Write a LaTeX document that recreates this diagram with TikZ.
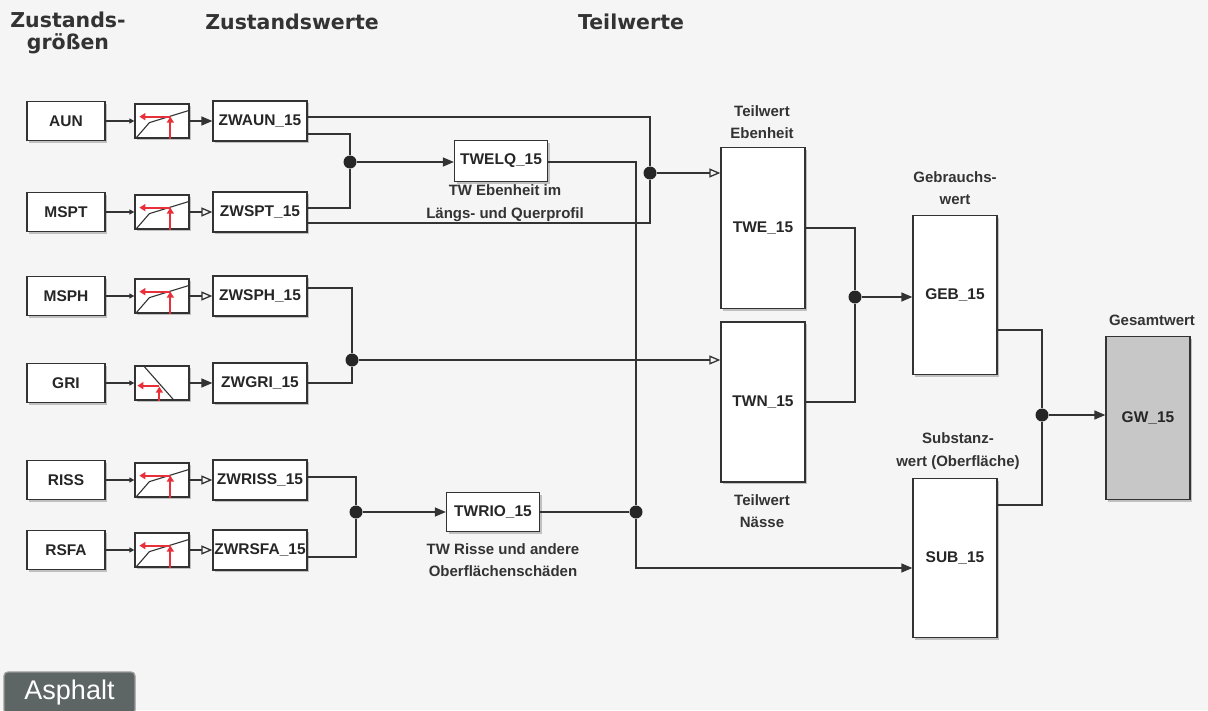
\documentclass[tikz,border=0pt]{standalone}
\usepackage{fontspec}
\setmainfont{Liberation Sans}
\newfontfamily\headfont{DejaVu Sans}
\usetikzlibrary{arrows.meta,shadows}
\definecolor{lutred}{HTML}{E8303A}
\definecolor{asph}{HTML}{5D6664}

\begin{document}
\begin{tikzpicture}[x=1pt,y=-1pt,line width=1.3pt,color=black!80,
    blk/.style={draw=black!80,fill=white,line width=1.3pt,inner sep=0pt,
      font=\bfseries\fontsize{15.5}{18}\selectfont,text=black!85,
      drop shadow={shadow xshift=2pt,shadow yshift=-2pt,fill=black!45,opacity=.5}},
    lbl/.style={font=\bfseries\fontsize{15}{22.5}\selectfont,text=black!80,align=center},
    head/.style={font=\headfont\bfseries\fontsize{20.5}{22.5}\selectfont,text=black!80,align=center},
    dot/.style={circle,fill=black!85,inner sep=0pt,minimum size=13pt},
    fa/.style={-{Triangle[length=11pt,width=9pt]}},
    oa/.style={-{Triangle[open,length=11pt,width=9pt]}},
    sa/.style={-{Triangle[length=5pt,width=5pt]}},
    ra/.style={draw=lutred,line width=1.8pt,-{Triangle[length=6pt,width=7pt]}}]
    \useasboundingbox (0,0) rectangle (1208,710);
    \fill[black!4] (0,0) rectangle (1208,710);

    % Zustandsgroessen -> Kennlinie -> Zustandswert
    \foreach \n/\s/\y/\t in {AUN/AUN/121/fa, MSPT/SPT/212/oa, MSPH/SPH/296/oa, GRI/GRI/383/fa, RISS/RISS/480/oa, RSFA/RSFA/550/oa}
    {
      \node[blk,minimum width=78pt,minimum height=39pt] (\n) at (66,\y) {\n};
      \node[blk,minimum width=54pt,minimum height=34pt] (L\n) at (162,\y) {};
      \node[blk,minimum width=94pt,minimum height=40pt] (ZW\n) at (260,\y) {ZW\s\_15};
      \draw[sa] (\n) -- (L\n);
      \draw[\t] (L\n) -- (ZW\n);
    }
    \foreach \n in {AUN,MSPT,MSPH,RISS,RSFA}
    {
      \draw[line width=1.1pt] ([shift={(2pt,1pt)}]L\n.south west) -- ++(13pt,15pt) -- ++(39pt,12pt);
      \draw[ra] ([xshift=36pt]L\n.south west) -- ++(0pt,22pt);
      \draw[ra] ([shift={(36pt,22pt)}]L\n.south west) -- ++(-31pt,0pt);
    }
    \draw[line width=1.1pt] ([shift={(10pt,34pt)}]LGRI.south west) -- ++(30pt,-34pt);
    \draw[ra] ([xshift=25pt]LGRI.south west) -- ++(0pt,14pt);
    \draw[ra] ([shift={(25pt,15pt)}]LGRI.south west) -- ++(-22pt,0pt);

    % Teilwerte und Verknuepfungen
    \node[blk,minimum width=93pt,minimum height=41pt] (TWELQ) at (501,161) {TWELQ\_15};
    \node[blk,minimum width=93pt,minimum height=39pt] (TWRIO) at (493,512) {TWRIO\_15};
    \node[blk,minimum width=84pt,minimum height=161pt] (TWE) at (763,228) {TWE\_15};
    \node[blk,minimum width=84pt,minimum height=160pt] (TWN) at (763,402) {TWN\_15};
    \node[blk,minimum width=84pt,minimum height=159pt] (GEB) at (955,295) {GEB\_15};
    \node[blk,minimum width=84pt,minimum height=159pt] (SUB) at (955,558) {SUB\_15};
    \node[blk,fill=black!22,minimum width=84pt,minimum height=163pt] (GW) at (1148,418) {GW\_15};

    \node[dot] (J1) at (350,162) {};
    \node[dot] (J2) at (650,173) {};
    \node[dot] (J3) at (636,512) {};
    \node[dot] (J4) at (352,360) {};
    \node[dot] (J5) at (356,512) {};
    \node[dot] (J6) at (855,297) {};
    \node[dot] (J7) at (1042,415) {};

    \draw ([yshift=4pt]ZWAUN.east) -| (J2);
    \draw ([yshift=-13pt]ZWAUN.east) -| (J1);
    \draw ([yshift=4pt]ZWMSPT.east) -| (J1);
    \draw ([yshift=-11pt]ZWMSPT.east) -| (J2);
    \draw[fa] (J1) -- (J1 -| TWELQ.west);
    \draw (TWELQ.east |- J1) -| (J3);
    \draw[oa] (J2) -- (J2 -| TWE.west);
    \draw ([yshift=8pt]ZWMSPH.east) -| (J4);
    \draw (ZWGRI.east) -| (J4);
    \draw[oa] (J4) -- (J4 -| TWN.west);
    \draw ([yshift=3pt]ZWRISS.east) -| (J5);
    \draw ([yshift=-7pt]ZWRSFA.east) -| (J5);
    \draw[fa] (J5) -- (J5 -| TWRIO.west);
    \draw (TWRIO.east |- J5) -- (J3);
    \draw[fa] (J3) |- ([yshift=-10pt]SUB.west);
    \draw (TWE.east) -| (J6);
    \draw (TWN.east) -| (J6);
    \draw[fa] (J6) -- (J6 -| GEB.west);
    \draw ([yshift=-35pt]GEB.east) -| (J7);
    \draw ([yshift=53pt]SUB.east) -| (J7);
    \draw[fa] (J7) -- (J7 -| GW.west);

    % Beschriftungen
    \node[head] (hZG) at (68,33) {Zustands-\\größen};
    \node[head] (hZW) at (292,22) {Zustandswerte};
    \node[head] (hTW) at (631,22) {Teilwerte};
    \node[lbl] (lTWELQ) at (505,203) {TW Ebenheit im\\Längs- und Querprofil};
    \node[lbl] (lTWRIO) at (503,560) {TW Risse und andere\\Oberflächenschäden};
    \node[lbl] (lTWE) at (762,122) {Teilwert\\Ebenheit};
    \node[lbl] (lTWN) at (762,511) {Teilwert\\Nässe};
    \node[lbl] (lGEB) at (955,188) {Gebrauchs-\\wert};
    \node[lbl] (lSUB) at (958,451) {Substanz-\\wert (Oberfläche)};
    \node[lbl] (lGW) at (1152,320) {Gesamtwert};
    \node[fill=asph,draw=black!40,rounded corners=4pt,text=white,inner sep=0pt,
      font=\fontsize{27}{30}\selectfont,minimum width=131pt,minimum height=42pt] (asphalt) at (69.5,693) {Asphalt};
  \end{tikzpicture}
\end{document}
